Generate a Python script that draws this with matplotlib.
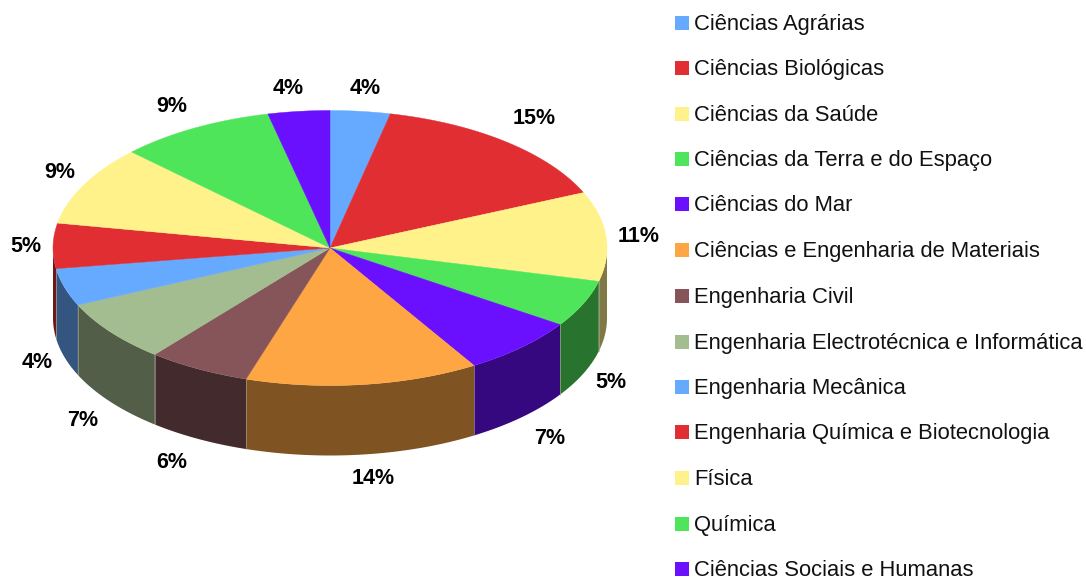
import numpy as np
import matplotlib
matplotlib.use("Agg")
import matplotlib.pyplot as plt
from matplotlib.patches import Polygon, Rectangle

plt.rcParams['font.family'] = ['Liberation Sans', 'DejaVu Sans']

categories = ["Ciências Agrárias", "Ciências Biológicas", "Ciências da Saúde",
              "Ciências da Terra e do Espaço", "Ciências do Mar",
              "Ciências e Engenharia de Materiais", "Engenharia Civil",
              "Engenharia Electrotécnica e Informática", "Engenharia Mecânica",
              "Engenharia Química e Biotecnologia", "Física", "Química",
              "Ciências Sociais e Humanas"]
values = [3.5, 14.9, 10.5, 5.5, 6.9, 13.6, 6.0, 7.3, 4.4, 5.3, 9.4, 9.1, 3.6]
pct_labels = ["4%", "15%", "11%", "5%", "7%", "14%", "6%", "7%", "4%", "5%", "9%", "9%", "4%"]
colors = ["#66AAFF", "#E02E33", "#FFF28A", "#4FE55A", "#6A10FF", "#FFA644", "#85555A",
          "#A3BC90", "#66AAFF", "#E02E33", "#FFF28A", "#4FE55A", "#6A10FF"]

# pixel positions of the labels around the pie
label_x = [365, 534, 639, 611, 550, 373, 172, 83, 37, 26, 60, 172, 288]
label_y = [88, 119, 236, 382, 438, 479, 462, 420, 363, 247, 173, 106, 89]
legend_y = [23, 68, 114, 159, 204, 250, 296, 342, 387, 432, 478, 524, 569]

cx, cy = 330, 248
rx, ry = 277, 137.5
depth = 70


def arc(a0, a1):
    # angles in degrees, clockwise from the top
    t = np.radians(np.linspace(a0, a1, 200))
    return cx + rx * np.sin(t), cy - ry * np.cos(t)


def shade(c):
    return tuple(v * 0.5 for v in matplotlib.colors.to_rgb(c))


fig = plt.figure(figsize=(10.86, 5.78), dpi=100)
ax = fig.add_axes([0, 0, 1, 1])
ax.set_xlim(0, 1086)
ax.set_ylim(578, 0)
ax.axis("off")

edges = np.concatenate([[0], np.cumsum(values)]) / np.sum(values) * 360

# side walls, only the front half shows
for i in range(len(values)):
    a0, a1 = max(edges[i], 90), min(edges[i + 1], 270)
    if a1 <= a0:
        continue
    x, y = arc(a0, a1)
    pts = np.vstack([np.c_[x, y], np.c_[x[::-1], y[::-1] + depth]])
    ax.add_patch(Polygon(pts, closed=True, fc=shade(colors[i]), ec="none", zorder=1))
    if edges[i] > 90:
        ax.plot([x[0], x[0]], [y[0], y[0] + depth], color="#b0a898", lw=0.6, alpha=0.7, zorder=2)

# top face
for i in range(len(values)):
    x, y = arc(edges[i], edges[i + 1])
    pts = np.vstack([[cx, cy], np.c_[x, y]])
    ax.add_patch(Polygon(pts, closed=True, fc=colors[i], ec=colors[i], lw=0.3, zorder=3))

for i in range(len(values)):
    ax.text(label_x[i], label_y[i], pct_labels[i], fontsize=15.5, fontweight="bold",
            ha="center", va="center", color="black")

for i in range(len(categories)):
    ax.add_patch(Rectangle((675, legend_y[i] - 7), 14, 14, fc=colors[i], ec="none"))
    ax.text(694, legend_y[i] + 1.5, categories[i], fontsize=15.8, ha="left", va="center", color="#111111")

fig.savefig("out.png", dpi=100)
